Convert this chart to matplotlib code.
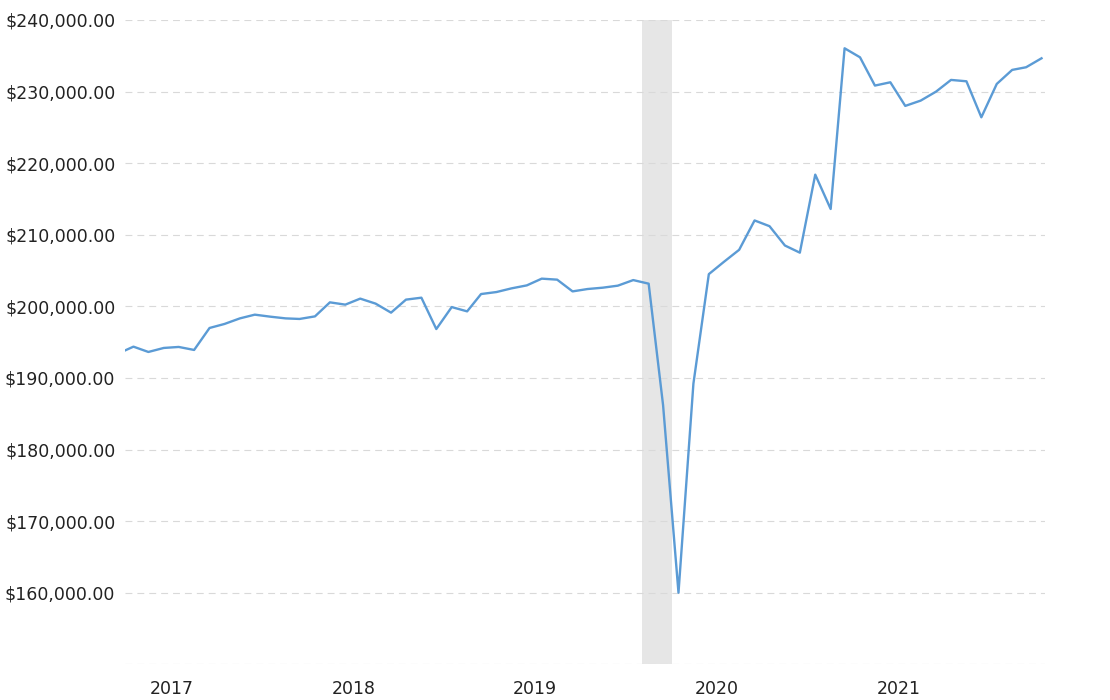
import matplotlib
matplotlib.use("Agg")
import matplotlib.pyplot as plt
import matplotlib.dates as mdates
from matplotlib.ticker import FuncFormatter
import pandas as pd

# monthly values, Mar 2017 .. Apr 2022 (first one sits just left of the visible range)
VALUES = [
    193400,
    194370, 193630, 194190, 194330, 193910, 196980, 197540, 198320, 198840,
    198560, 198320, 198240, 198600, 200560, 200240, 201080, 200380, 199120,
    200940, 201210, 196830, 199900, 199300, 201720, 202000, 202510, 202930,
    203870, 203730, 202090, 202420, 202610, 202890, 203670, 203170, 186200,
    160000, 189200, 204500, 206200, 207900, 212000, 211200, 208500, 207500,
    218400, 213600, 236050, 234790, 230840, 231300, 228000, 228740, 230000,
    231630, 231440, 226410, 231070, 233030, 233400, 234650,
]
START_MONTH = "2017-03-01"

RECESSION = ("2020-02-01", "2020-04-01")
YEAR_LABELS = [2017, 2018, 2019, 2020, 2021]
Y_TICKS = [150000, 160000, 170000, 180000, 190000, 200000,
           210000, 220000, 230000, 240000]

dates = pd.date_range(START_MONTH, periods=len(VALUES), freq="MS") + pd.Timedelta(days=14)

fig = plt.figure(figsize=(11.1, 7.0), dpi=100)
fig.patch.set_facecolor("white")
ax = fig.add_axes([125 / 1110, (700 - 664.3) / 700, (1045 - 125) / 1110, (664.3 - 20) / 700])

# recession band
ax.axvspan(pd.Timestamp(RECESSION[0]), pd.Timestamp(RECESSION[1]),
           color="#e6e6e6", lw=0, zorder=1)

ax.plot(dates, VALUES, color="#5b9bd5", lw=1.7, zorder=3,
        solid_joinstyle="round")

ax.set_xlim(pd.Timestamp("2017-03-29"), pd.Timestamp("2022-04-22"))
ax.set_ylim(150000, 240000)

# y axis
ax.set_yticks(Y_TICKS)
ax.yaxis.set_major_formatter(
    FuncFormatter(lambda v, _: "" if v < 155000 else f"${v:,.2f}"))
ax.yaxis.grid(True, color="#d9d9d9", lw=0.8, ls=(0, (6.2, 4.5)), zorder=0)
ax.tick_params(axis="y", length=0, pad=7, labelsize=12.5, labelcolor="#222222")

# x axis: year labels centred in the middle of each year
ax.set_xticks([pd.Timestamp(f"{y}-07-01") for y in YEAR_LABELS])
ax.set_xticklabels([str(y) for y in YEAR_LABELS])
ax.tick_params(axis="x", length=0, pad=11, labelsize=12.5, labelcolor="#222222")

for s in ax.spines.values():
    s.set_visible(False)

fig.savefig("out.png", dpi=100, facecolor="white")
